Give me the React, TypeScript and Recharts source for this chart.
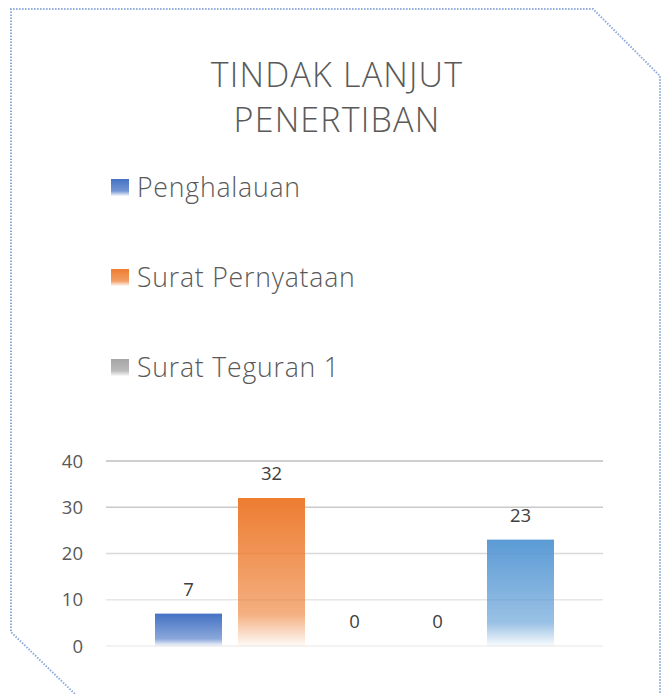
import React from "react";
import { BarChart, Bar, XAxis, YAxis, CartesianGrid, LabelList } from "recharts";

const TITLE_LINES = ["TINDAK LANJUT", "PENERTIBAN"];
const SERIES_NAMES = ["Penghalauan", "Surat Pernyataan", "Surat Teguran 1", "Surat Teguran 2", "Surat Teguran 3"];
const SERIES_KEYS = ["s1", "s2", "s3", "s4", "s5"];
const SERIES_VALUES = [7, 32, 0, 0, 23];
const SERIES_COLORS = ["#4472C4", "#ED7D31", "#A5A5A5", "#FFC000", "#5B9BD5"];
const LEGEND_SHOWN = 3;
const Y_TICKS = [0, 10, 20, 30, 40];
const GRID_COLORS = ["#EFEFEF", "#E6E6E6", "#D9D9D9", "#C9C9C9", "#BFBFBF"];

const row: Record<string, number | string> = { name: "Tindak Lanjut" };
SERIES_KEYS.forEach((k, i) => {
  row[k] = SERIES_VALUES[i];
});
const data = [row];

const FONT = "'Open Sans', 'Noto Sans', sans-serif";

const GridLine = (props: any) => {
  const { x1, x2, y1, y2, index } = props;
  return (
    <line
      x1={x1}
      x2={x2}
      y1={y1}
      y2={y2}
      stroke={GRID_COLORS[index] ?? "#D9D9D9"}
      strokeWidth={1.5}
    />
  );
};

const BarShape = (props: any) => {
  const { x, y, width, height, fill } = props;
  if (!height || height < 0.5) return <g />;
  return <rect x={x} y={y} width={width} height={height} fill={fill} />;
};

export default function App() {
  return (
    <div style={{ position: "absolute", left: 0, top: 0, width: 667, height: 694, background: "#fff", fontFamily: FONT }}>
      <BarChart
        width={667}
        height={694}
        data={data}
        margin={{ top: 461, right: 64, bottom: 48, left: 46 }}
        barSize={67}
        barGap={16}
      >
        <defs>
          {SERIES_COLORS.map((c, i) => (
            <linearGradient key={i} id={`grad${i}`} x1="0" y1="0" x2="0" y2="1">
              <stop offset="0%" stopColor={c} stopOpacity={1} />
              <stop offset="78%" stopColor={c} stopOpacity={0.62} />
              <stop offset="100%" stopColor={c} stopOpacity={0.04} />
            </linearGradient>
          ))}
        </defs>
        <CartesianGrid vertical={false} horizontal={GridLine} />
        <XAxis dataKey="name" hide />
        <YAxis
          width={60}
          domain={[0, 40]}
          ticks={Y_TICKS}
          axisLine={false}
          tickLine={false}
          tickSize={0}
          tickMargin={23}
          tick={{ fill: "#595959", fontSize: 18.5, fontFamily: FONT }}
        />
        {SERIES_KEYS.map((k, i) => (
          <Bar
            key={k}
            dataKey={k}
            name={SERIES_NAMES[i]}
            fill={`url(#grad${i})`}
            minPointSize={0.01}
            shape={BarShape}
            isAnimationActive={false}
          >
            <LabelList dataKey={k} position="top" offset={18} fill="#404040" fontSize={18.5} fontFamily={FONT} />
          </Bar>
        ))}
      </BarChart>
      <svg
        width={667}
        height={694}
        style={{ position: "absolute", left: 0, top: 0, pointerEvents: "none" }}
      >
        <defs>
          {SERIES_COLORS.map((c, i) => (
            <linearGradient key={i} id={`lg${i}`} x1="0" y1="0" x2="0" y2="1">
              <stop offset="0%" stopColor={c} stopOpacity={1} />
              <stop offset="70%" stopColor={c} stopOpacity={0.75} />
              <stop offset="100%" stopColor={c} stopOpacity={0.05} />
            </linearGradient>
          ))}
        </defs>
        <polyline
          points="77,696 11,632 11,9 593,9 660,76 660,700"
          fill="none"
          stroke="#8FAADC"
          strokeWidth={2}
          strokeDasharray="1.5 1.5"
        />
        {TITLE_LINES.map((t, i) => (
          <text
            key={t}
            x={337}
            y={87 + i * 45}
            textAnchor="middle"
            fill="#595959"
            fontSize={34}
            fontWeight={300}
            letterSpacing={1.2}
            fontFamily={FONT}
          >
            {t}
          </text>
        ))}
        {SERIES_NAMES.slice(0, LEGEND_SHOWN).map((n, i) => (
          <g key={n}>
            <rect x={111} y={179 + i * 90} width={18} height={17} fill={`url(#lg${i})`} />
            <text
              x={137}
              y={197 + i * 90}
              fill="#595959"
              fontSize={26.6}
              fontWeight={300}
              letterSpacing={0.8}
              fontFamily={FONT}
            >
              {n}
            </text>
          </g>
        ))}
      </svg>
    </div>
  );
}
